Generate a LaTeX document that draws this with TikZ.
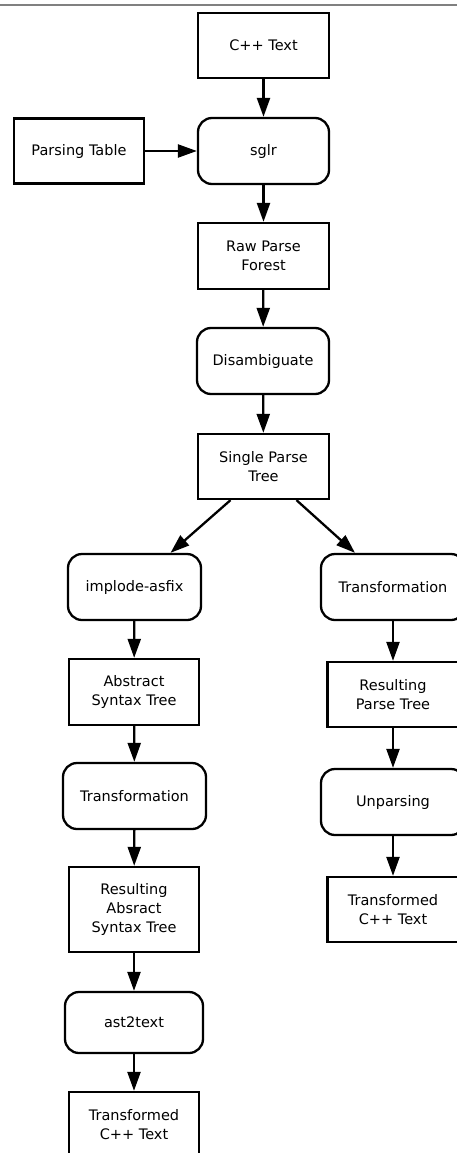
\documentclass[tikz,border=0pt]{standalone}
\usepackage{fontspec}
\setmainfont{DejaVu Sans}
\usetikzlibrary{arrows.meta,calc}

\tikzset{
  base/.style={draw, line width=2.3pt, align=center, inner sep=0pt,
    font=\fontsize{14.5}{19.3}\selectfont},
  datum/.style={base, minimum width=131pt, minimum height=65pt},
  proc/.style={base, rounded corners=14pt, minimum width=131pt, minimum height=66pt},
  flow/.style={-{Triangle[length=19pt,width=13pt]}, line width=2.3pt}
}

\begin{document}
\begin{tikzpicture}[x=1pt, y=-1pt]
  \useasboundingbox (0,0) rectangle (457,1153);
  \clip (0,0) rectangle (457,1153);

  % rule along the top edge
  \draw[gray, line width=2pt] (0,5) -- (457,5);

  % parsing stage
  \node[datum] (cpp)    at (263.5,45.5) {C++ Text};
  \node[proc]  (sglr)   at (263.5,151)  {sglr};
  \node[datum, minimum width=130pt] (ptable) at (79,151) {Parsing Table};
  \node[datum, minimum height=66pt] (raw) at (263.5,256) {Raw Parse\\Forest};
  \node[proc, minimum width=132pt] (disamb) at (263,361) {Disambiguate};
  \node[datum] (single) at (263.5,466.5) {Single Parse\\Tree};

  % abstract syntax branch
  \node[proc, minimum width=133pt] (implode) at (134.5,587) {implode-asfix};
  \node[datum, minimum width=130pt, minimum height=66pt] (ast) at (134,692) {Abstract\\Syntax Tree};
  \node[proc, minimum width=143pt] (transL) at (134.5,796) {Transformation};
  \node[datum, minimum width=130pt, minimum height=85pt] (rast) at (134,909.5) {Resulting\\Absract\\Syntax Tree};
  \node[proc, minimum width=138pt, minimum height=61pt] (ast2text) at (134,1022.5) {ast2text};
  \node[datum, minimum width=130pt] (ttL) at (134,1124.5) {Transformed\\C++ Text};

  % parse tree branch
  \node[proc, minimum width=144pt] (transR) at (393,587) {Transformation};
  \node[datum] (rpt) at (393,694.5) {Resulting\\Parse Tree};
  \node[proc, minimum width=144pt] (unparse) at (393,802) {Unparsing};
  \node[datum] (ttR) at (393,909.5) {Transformed\\C++ Text};

  % connectors
  \draw[flow] (cpp) -- (sglr);
  \draw[flow] (ptable) -- (sglr);
  \draw[flow] (sglr) -- (raw);
  \draw[flow] (raw) -- (disamb);
  \draw[flow] (disamb) -- (single);
  \draw[flow] ($(single.south)+(-33,0)$) -- ($(implode.north)+(36,0)$);
  \draw[flow] ($(single.south)+(33,0)$) -- ($(transR.north)+(-38,0)$);
  \draw[flow] (implode) -- (ast);
  \draw[flow] (ast) -- (transL);
  \draw[flow] (transL) -- (rast);
  \draw[flow] (rast) -- (ast2text);
  \draw[flow] (ast2text) -- (ttL);
  \draw[flow] (transR) -- (rpt);
  \draw[flow] (rpt) -- (unparse);
  \draw[flow] (unparse) -- (ttR);
\end{tikzpicture}
\end{document}
